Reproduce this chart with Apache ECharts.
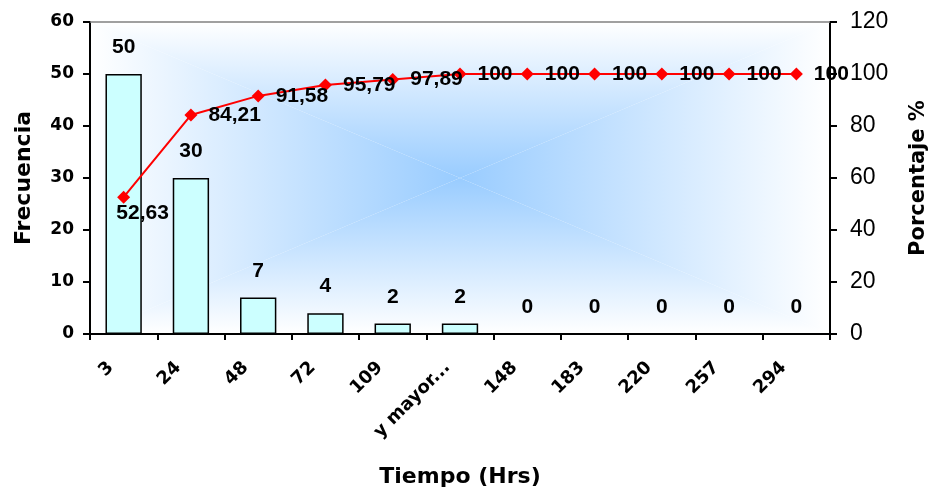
<!DOCTYPE html>
<html>
<head>
<meta charset="utf-8">
<script src="https://cdn.jsdelivr.net/npm/echarts@6/dist/echarts.min.js"></script>
<style>html,body{margin:0;padding:0;background:#fff;}#chart{width:933px;height:492px;}</style>
</head>
<body>
<div id="chart"></div>
<script>
const categories = ['3', '24', '48', '72', '109', 'y mayor...', '148', '183', '220', '257', '294'];
const frecuencia = [50, 30, 7, 4, 2, 2, 0, 0, 0, 0, 0];
const porcentaje = [52.63, 84.21, 91.58, 95.79, 97.89, 100, 100, 100, 100, 100, 100];
const leftTicks = [0, 10, 20, 30, 40, 50, 60];
const rightTicks = [0, 20, 40, 60, 80, 100, 120];

const G = {left: 90, right: 103, top: 22, bottom: 158};
const W = 933, H = 492;
const L = G.left, R = W - G.right, T = G.top, B = H - G.bottom;
const CX = (L + R) / 2, CY = (T + B) / 2;
const blue = '#99CCFF';
function grad(x1, y1, x2, y2) {
  return new echarts.graphic.LinearGradient(x1, y1, x2, y2, [
    {offset: 0, color: '#ffffff'}, {offset: 1, color: blue}], true);
}
const bg = [
  {type: 'polygon', shape: {points: [[L, T], [R, T], [CX, CY]]}, style: {fill: grad(0, T, 0, CY)}, z: -10, silent: true},
  {type: 'polygon', shape: {points: [[L, B], [R, B], [CX, CY]]}, style: {fill: grad(0, B, 0, CY)}, z: -10, silent: true},
  {type: 'polygon', shape: {points: [[L, T], [L, B], [CX, CY]]}, style: {fill: grad(L, 0, CX, 0)}, z: -10, silent: true},
  {type: 'polygon', shape: {points: [[R, T], [R, B], [CX, CY]]}, style: {fill: grad(R, 0, CX, 0)}, z: -10, silent: true},
  {type: 'line', shape: {x1: L, y1: T, x2: R, y2: T}, style: {stroke: '#808080', lineWidth: 1.5}, z: 5, silent: true}
];

const arial = 'Liberation Sans, Arial, sans-serif';
const wide = 'DejaVu Sans, Verdana, sans-serif';
const chart = echarts.init(document.getElementById('chart'), null, {renderer: 'canvas'});
chart.setOption({
  animation: false,
  backgroundColor: '#ffffff',
  textStyle: {fontFamily: arial},
  graphic: bg,
  grid: {left: G.left, right: G.right, top: G.top, bottom: G.bottom, containLabel: false, outerBoundsMode: 'none'},
  xAxis: {
    type: 'category',
    data: categories,
    name: 'Tiempo (Hrs)',
    nameLocation: 'middle',
    nameGap: 132,
    nameTextStyle: {fontFamily: wide, fontSize: 22, fontWeight: 'bold', color: '#000'},
    axisLine: {lineStyle: {color: '#000', width: 2}},
    axisTick: {show: true, length: 6, lineStyle: {color: '#000', width: 2}, alignWithLabel: false},
    axisLabel: {rotate: 45, margin: 18, fontFamily: wide, fontSize: 18, fontWeight: 'bold', color: '#000', interval: 0, padding: [0, 18, 0, 0]},
    splitLine: {show: false}
  },
  yAxis: [
    {
      type: 'value', min: 0, max: 60, interval: 10,
      name: 'Frecuencia', nameLocation: 'middle', nameGap: 55, nameRotate: 90,
      nameTextStyle: {fontFamily: wide, fontSize: 22, fontWeight: 'bold', color: '#000'},
      axisLine: {show: true, lineStyle: {color: '#000', width: 2}},
      axisTick: {show: true, length: 7, lineStyle: {color: '#000', width: 2}},
      axisLabel: {fontFamily: wide, fontSize: 17, fontWeight: 'bold', color: '#000', margin: 16,
        formatter: v => leftTicks.includes(v) ? String(v) : ''},
      splitLine: {show: false}
    },
    {
      type: 'value', min: 0, max: 120, interval: 20, position: 'right',
      name: 'Porcentaje %', nameLocation: 'middle', nameGap: 78, nameRotate: 90,
      nameTextStyle: {fontFamily: wide, fontSize: 21, fontWeight: 'bold', color: '#000'},
      axisLine: {show: true, lineStyle: {color: '#000', width: 2}},
      axisTick: {show: true, length: 7, lineStyle: {color: '#000', width: 2}},
      axisLabel: {fontFamily: arial, fontSize: 23, color: '#000', margin: 20,
        formatter: v => rightTicks.includes(v) ? String(v) : ''},
      splitLine: {show: false}
    }
  ],
  series: [
    {
      type: 'bar',
      yAxisIndex: 0,
      data: frecuencia,
      barWidth: '54%',
      itemStyle: {color: '#CCFFFF', borderColor: '#000', borderWidth: 1.5},
      label: {show: true, position: 'top', distance: 16, fontFamily: arial, fontSize: 21, fontWeight: 'bold', color: '#000'},
      z: 2
    },
    {
      type: 'line',
      yAxisIndex: 1,
      data: porcentaje.map((v, i) => i === 0 ? {value: v, label: {position: 'bottom', offset: [19, -12]}} : v),
      symbol: 'diamond',
      symbolSize: 13,
      lineStyle: {color: '#FF0000', width: 2},
      itemStyle: {color: '#FF0000'},
      label: {show: true, position: 'right', distance: 11, fontFamily: arial, fontSize: 21, fontWeight: 'bold', color: '#000',
        formatter: p => String(p.value).replace('.', ',')},
      z: 4
    }
  ]
});
</script>
</body>
</html>
